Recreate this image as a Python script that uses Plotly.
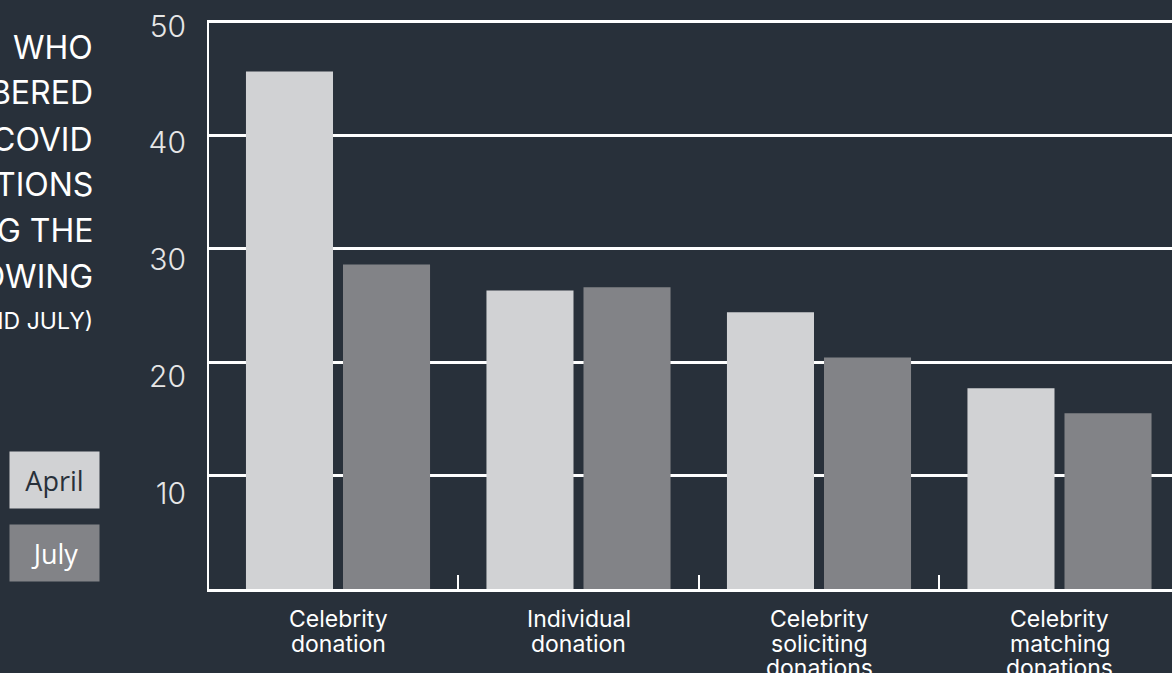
import plotly.graph_objects as go

# ---- data -------------------------------------------------------------
categories = [
    "Celebrity\ndonation",
    "Individual\ndonation",
    "Celebrity\nsoliciting\ndonations",
    "Celebrity\nmatching\ndonations",
]
april = [45.6, 26.3, 24.4, 17.7]
july = [28.6, 26.6, 20.4, 15.5]
y_ticks = [10, 20, 30, 40, 50]
series_names = ["April", "July"]
title_lines = [
    "WHO",
    "REMEMBERED",
    "COVID",
    "DONATIONS",
    "INVOLVING THE",
    "FOLLOWING",
    "(APRIL AND JULY)",
]

# ---- styling ----------------------------------------------------------
BG = "#28303a"
APRIL_C = "#d1d2d4"
JULY_C = "#828387"
WHITE = "#ffffff"
FONT = "Inter, Roboto, 'DejaVu Sans', sans-serif"
W, H = 1172, 673
L, R, T, B = 209, 0, 20, 84
PW, PH = W - L - R, H - T - B
Y_TOP = 50.15  # a little headroom so the 50 grid line is kept


def px_x(px):
    return (px - L) / PW


def px_y(py):
    return (H - B - py) / PH


idx = list(range(len(categories)))

fig = go.Figure()
fig.add_trace(go.Bar(x=idx, y=april, name=series_names[0],
                     marker=dict(color=APRIL_C, line=dict(width=0)),
                     hoverinfo="skip"))
fig.add_trace(go.Bar(x=idx, y=july, name=series_names[1],
                     marker=dict(color=JULY_C, line=dict(width=0)),
                     hoverinfo="skip"))
# carrier trace so the label axis is drawn
fig.add_trace(go.Scatter(x=[None], y=[None], yaxis="y2", showlegend=False,
                         hoverinfo="skip"))

# category labels, one annotation per line for tight line spacing
for i, label in enumerate(categories):
    for k, line in enumerate(label.split("\n")):
        fig.add_annotation(x=i, xref="x", y=0, yref="paper",
                           yanchor="top", xanchor="center",
                           yshift=-(14 + 24.5 * k), showarrow=False,
                           text=line,
                           font=dict(family=FONT, size=23, color=WHITE))

# block title on the left, right aligned
title_centers = [47.8, 93.0, 139.0, 184.5, 230.5, 276.5, 321.0]
for k, line in enumerate(title_lines):
    size = 23 if k == len(title_lines) - 1 else 32
    fig.add_annotation(x=px_x(95), xref="paper", y=px_y(title_centers[k]),
                       yref="paper", xanchor="right", yanchor="middle",
                       showarrow=False, text=line, align="right",
                       font=dict(family=FONT, size=size, color=WHITE))

# legend chips
chips = [(series_names[0], APRIL_C, BG, 480.0),
         (series_names[1], JULY_C, WHITE, 552.5)]
for name, fill, txt, cy in chips:
    fig.add_annotation(x=px_x(54.5), xref="paper", y=px_y(cy), yref="paper",
                       xanchor="center", yanchor="middle", showarrow=False,
                       text=name, width=89, height=56, borderpad=0,
                       bgcolor=fill, align="center", valign="middle",
                       font=dict(family="'Open Sans', sans-serif", size=27,
                                 color=txt))

fig.update_layout(
    width=W, height=H,
    margin=dict(l=L, r=R, t=T, b=B, pad=0),
    paper_bgcolor=BG, plot_bgcolor=BG,
    barmode="group", bargap=0.193, bargroupgap=0.103,
    showlegend=False,
    xaxis=dict(
        range=[-0.5364, 3.4678], tickvals=idx, ticktext=[""] * len(idx),
        ticks="", showgrid=False, zeroline=False,
        showline=True, linecolor=WHITE, linewidth=2.5,
        minor=dict(tickmode="array",
                   tickvals=[i + 0.5 for i in idx[:-1]],
                   ticks="inside", ticklen=14, tickwidth=2,
                   tickcolor=WHITE, showgrid=False),
    ),
    yaxis=dict(
        range=[0, Y_TOP], tickvals=y_ticks, showticklabels=False, ticks="",
        showgrid=True, gridcolor=WHITE, gridwidth=2.5, zeroline=False,
        showline=True, linecolor=WHITE, linewidth=2,
    ),
    yaxis2=dict(
        overlaying="y", side="left", anchor="x",
        range=[1.777, 1.777 + PH / 11.675], tickvals=y_ticks,
        showgrid=False, zeroline=False, showline=False,
        ticks="outside", ticklen=16, tickcolor="rgba(0,0,0,0)",
        tickfont=dict(family=FONT, size=30, weight=300, color="#e6e6e6"),
    ),
)

fig.write_html("out.html")
